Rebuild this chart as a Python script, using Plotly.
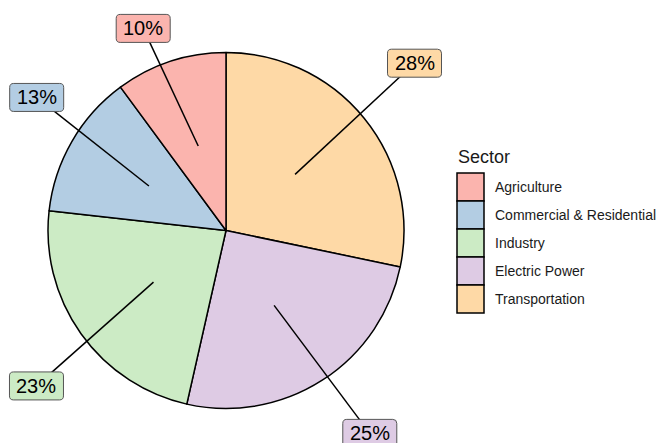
import math
import plotly.graph_objects as go

# Emissions share by sector (percent), in legend order
sectors = ["Agriculture", "Commercial & Residential", "Industry",
           "Electric Power", "Transportation"]
shares = [10, 13, 23, 25, 28]
colors = ["#FBB4AE", "#B3CDE3", "#CCEBC5", "#DECBE4", "#FED9A6"]

# Label placement tweaks (radial factor of pie radius, angular nudge in degrees)
label_radius = {"Agriculture": 1.227, "Commercial & Residential": 1.30,
                "Industry": 1.377, "Electric Power": 1.397, "Transportation": 1.416}
label_nudge = {"Agriculture": -4.1, "Commercial & Residential": 5.1,
               "Industry": -3.9, "Electric Power": -2.6, "Transportation": -2.5}

W, H = 658, 443
CX, CY, R = 226, 230.5, 178  # pie centre / radius in pixels

# Pie drawn clockwise from 12 o'clock, starting with Transportation
pie_sectors = sectors[::-1]
pie_shares = shares[::-1]
pie_colors = colors[::-1]

fig = go.Figure(go.Pie(
    labels=pie_sectors, values=pie_shares,
    marker=dict(colors=pie_colors, line=dict(color="black", width=1.5)),
    sort=False, direction="clockwise", rotation=0,
    textinfo="none", hoverinfo="label+percent", showlegend=False,
    domain=dict(x=[(CX - R) / W, (CX + R) / W],
                y=[1 - (CY + R) / H, 1 - (CY - R) / H]),
))


def px(x, y):
    return x / W, 1 - y / H


def rounded_rect(x0, y0, x1, y1, r):
    # path in paper coordinates for a rounded rectangle given pixel corners
    def p(x, y):
        a, b = px(x, y)
        return f"{a:.5f},{b:.5f}"
    return " ".join([
        f"M{p(x0 + r, y0)}",
        f"L{p(x1 - r, y0)}",
        f"Q{p(x1, y0)} {p(x1, y0 + r)}",
        f"L{p(x1, y1 - r)}",
        f"Q{p(x1, y1)} {p(x1 - r, y1)}",
        f"L{p(x0 + r, y1)}",
        f"Q{p(x0, y1)} {p(x0, y1 - r)}",
        f"L{p(x0, y0 + r)}",
        f"Q{p(x0, y0)} {p(x0 + r, y0)}Z",
    ])


shapes = []
annotations = []
total = sum(pie_shares)
start = 0.0
box_shapes = []
for name, val, col in zip(pie_sectors, pie_shares, pie_colors):
    span = val / total * 360
    mid = start + span / 2
    start += span
    # inner anchor of the leader line
    a = math.radians(mid)
    ix, iy = CX + 0.5 * R * math.sin(a), CY - 0.5 * R * math.cos(a)
    b = math.radians(mid + label_nudge[name])
    d = label_radius[name] * R
    lx, ly = CX + d * math.sin(b), CY - d * math.cos(b)
    x0, y0 = px(ix, iy)
    x1, y1 = px(lx, ly)
    shapes.append(dict(type="line", xref="paper", yref="paper",
                       x0=x0, y0=y0, x1=x1, y1=y1,
                       line=dict(color="black", width=1.5)))
    bw, bh = 54, 28
    box_shapes.append(dict(type="path", xref="paper", yref="paper",
                           path=rounded_rect(lx - bw / 2, ly - bh / 2,
                                             lx + bw / 2, ly + bh / 2, 4),
                           fillcolor=col, line=dict(color="#555555", width=1)))
    annotations.append(dict(x=x1, y=y1, xref="paper", yref="paper",
                            text=f"{val}%", showarrow=False,
                            font=dict(family="Liberation Sans, Arial", size=20,
                                      color="black"),
                            xanchor="center", yanchor="middle"))
shapes += box_shapes

# Legend drawn by hand
LX, LY0, KW, KH = 457, 173, 27, 28
annotations.append(dict(x=px(LX - 1, 0)[0], y=px(0, 157)[1], xref="paper",
                        yref="paper", text="Sector", showarrow=False,
                        xanchor="left", yanchor="middle",
                        font=dict(family="Liberation Sans, Arial", size=18,
                                  color="#1a1a1a")))
for i, (name, col) in enumerate(zip(sectors, colors)):
    top = LY0 + i * KH
    xa, ya = px(LX, top)
    xb, yb = px(LX + KW, top + KH)
    shapes.append(dict(type="rect", xref="paper", yref="paper",
                       x0=xa, y0=yb, x1=xb, y1=ya, fillcolor=col,
                       line=dict(color="black", width=1.5)))
    annotations.append(dict(x=px(493, 0)[0], y=px(0, top + KH / 2)[1],
                            xref="paper", yref="paper", text=name,
                            showarrow=False, xanchor="left", yanchor="middle",
                            font=dict(family="Liberation Sans, Arial", size=14,
                                      color="#1a1a1a")))

fig.update_layout(
    width=W, height=H, margin=dict(l=0, r=0, t=0, b=0),
    paper_bgcolor="white", plot_bgcolor="white",
    shapes=shapes, annotations=annotations, showlegend=False,
)

fig.write_html("out.html")
